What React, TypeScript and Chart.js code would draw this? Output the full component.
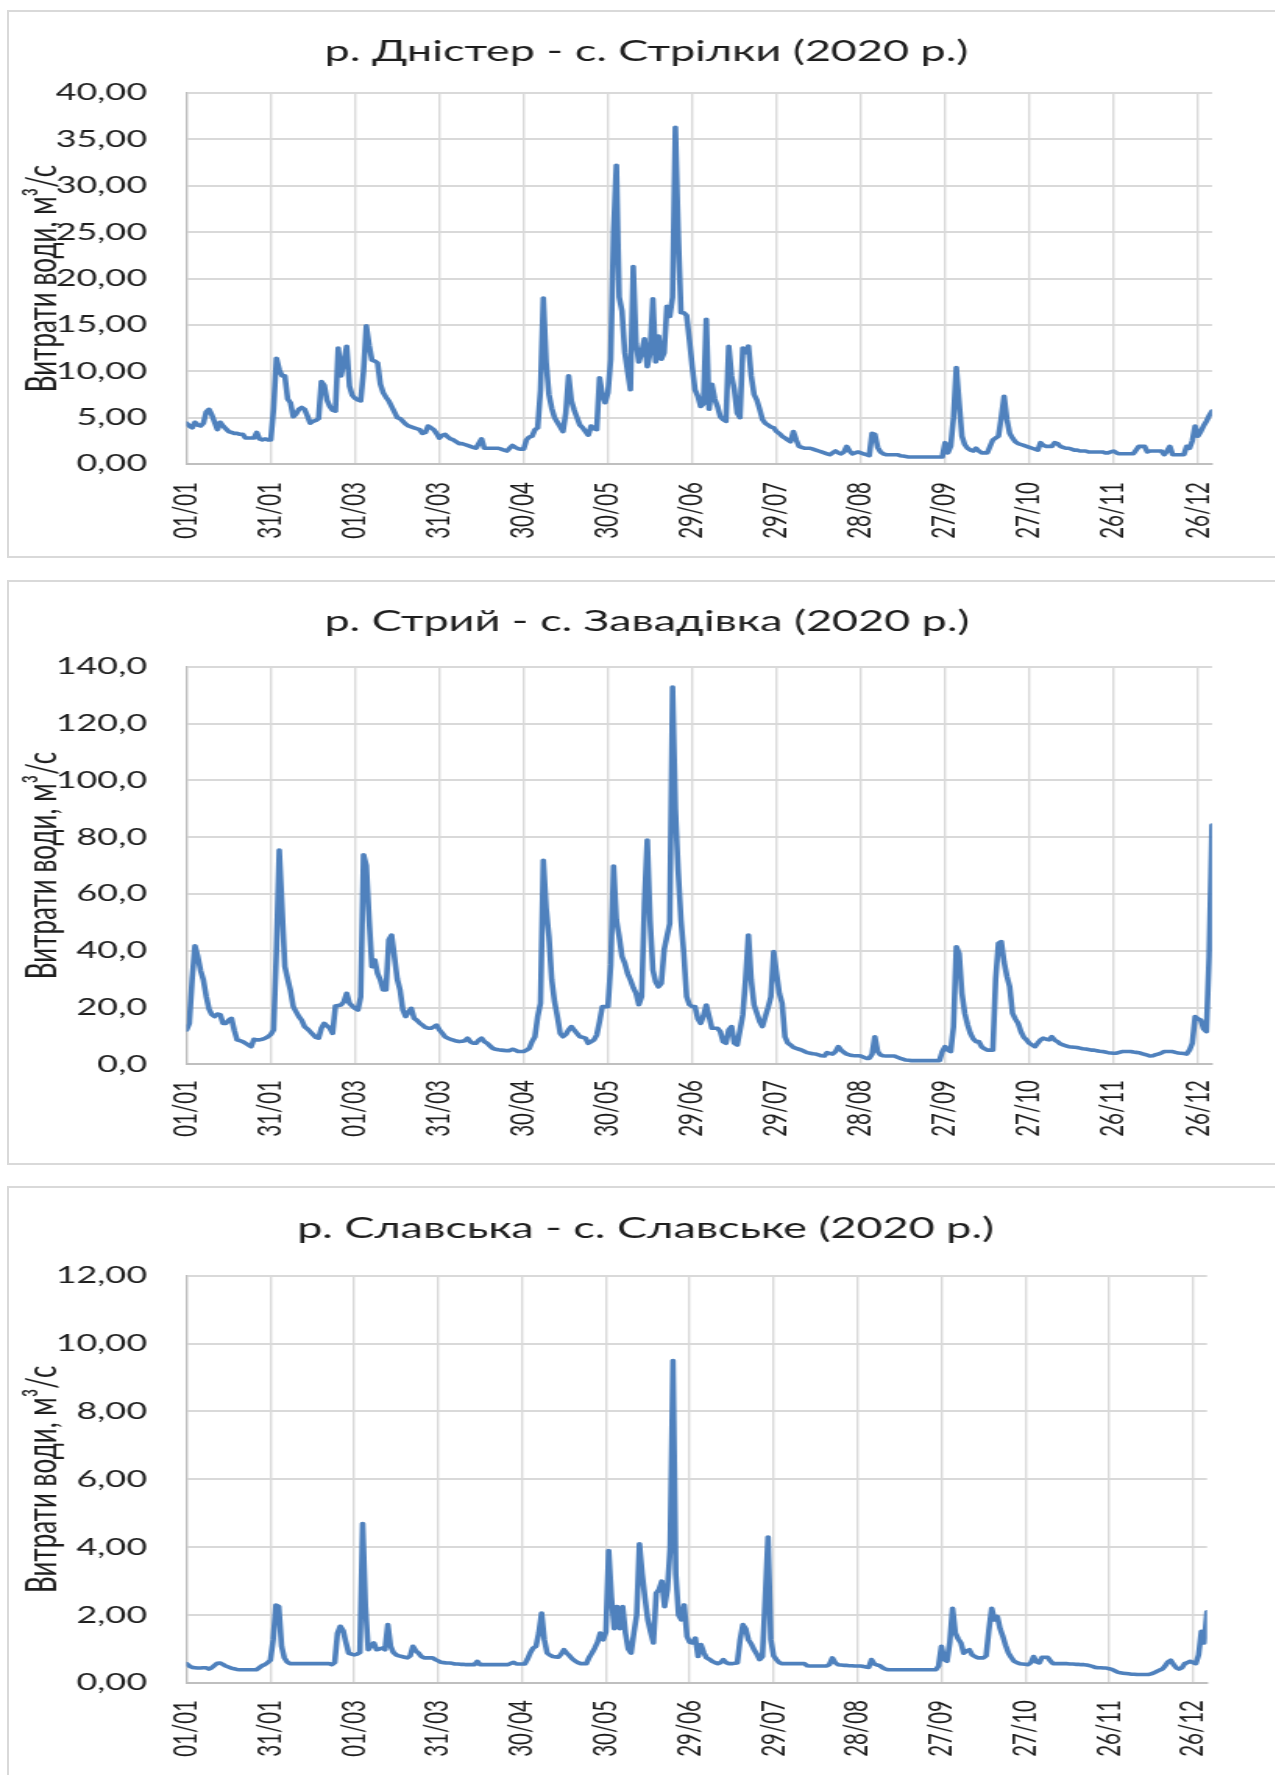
import { useEffect, useRef } from 'react';
import { Chart, registerables } from 'chart.js';

Chart.register(...registerables);

// ---------- data ----------
const xTickLabels = ['01/01', '31/01', '01/03', '31/03', '30/04', '30/05', '29/06', '29/07', '28/08', '27/09', '27/10', '26/11', '26/12'];
const yAxisTitle = 'Витрати води, м³/с';

const titleDnister = 'р. Дністер - с. Стрілки (2020 р.)';
const titleStryi = 'р. Стрий - с. Завадівка (2020 р.)';
const titleSlavska = 'р. Славська - с. Славське (2020 р.)';

// daily discharge, 01/01/2020 .. 31/12/2020 (366 values)
const dnister = [
  4.4, 4.1, 3.9, 4.5, 4.2, 4.1, 4.4, 5.6, 5.9, 5.3,
  4.5, 3.7, 4.5, 4.1, 3.8, 3.5, 3.4, 3.3, 3.3, 3.2,
  3.2, 2.8, 2.8, 2.8, 2.8, 3.4, 2.7, 2.6, 2.7, 2.6,
  2.6, 6.0, 11.4, 10.2, 9.5, 9.5, 7.0, 6.6, 5.1, 5.4,
  5.9, 6.1, 5.9, 5.2, 4.4, 4.6, 4.7, 4.9, 8.9, 8.5,
  6.9, 6.2, 5.8, 5.7, 12.5, 9.5, 11.0, 12.7, 8.4, 7.4,
  7.1, 6.9, 6.8, 10.0, 14.9, 12.8, 11.2, 11.1, 10.9, 8.6,
  7.7, 7.2, 6.8, 6.2, 5.6, 5.0, 4.9, 4.6, 4.3, 4.1,
  4.0, 3.9, 3.8, 3.7, 3.3, 3.4, 4.1, 3.9, 3.7, 3.3,
  2.8, 3.1, 3.2, 2.9, 2.7, 2.6, 2.4, 2.2, 2.2, 2.1,
  2.0, 1.9, 1.8, 1.7, 2.2, 2.7, 1.7, 1.7, 1.7, 1.7,
  1.7, 1.7, 1.6, 1.5, 1.4, 1.7, 2.0, 1.8, 1.65, 1.6,
  1.6, 2.6, 2.9, 3.0, 3.7, 3.9, 8.0, 17.9, 11.0, 7.5,
  6.0, 5.0, 4.5, 4.0, 3.5, 5.5, 9.5, 6.8, 5.8, 5.0,
  4.2, 3.9, 3.5, 3.1, 4.1, 3.8, 3.7, 9.3, 7.5, 6.6,
  7.7, 11.3, 25.0, 32.2, 18.0, 16.5, 12.0, 10.0, 8.0, 21.3,
  13.0, 11.0, 12.0, 13.5, 10.5, 12.0, 17.8, 11.0, 13.8, 11.3,
  12.0, 17.0, 15.9, 18.0, 36.3, 25.0, 16.3, 16.3, 16.0, 13.4,
  10.5, 8.0, 7.3, 6.2, 6.5, 15.6, 5.9, 8.6, 7.0, 6.2,
  5.1, 4.8, 4.6, 12.7, 9.5, 8.0, 5.5, 5.0, 12.5, 12.0,
  12.7, 9.5, 7.5, 6.9, 5.9, 4.8, 4.4, 4.2, 4.0, 3.9,
  3.5, 3.3, 3.0, 2.8, 2.6, 2.4, 3.5, 2.6, 1.9, 1.8,
  1.7, 1.7, 1.7, 1.6, 1.5, 1.4, 1.3, 1.2, 1.1, 1.0,
  1.2, 1.4, 1.2, 1.1, 1.3, 1.9, 1.4, 1.1, 1.2, 1.3,
  1.2, 1.1, 1.0, 0.9, 3.3, 3.2, 1.8, 1.3, 1.1, 1.0,
  1.0, 1.0, 1.0, 1.0, 0.9, 0.85, 0.8, 0.75, 0.75, 0.75,
  0.75, 0.75, 0.75, 0.75, 0.75, 0.75, 0.75, 0.75, 0.75, 0.75,
  2.3, 1.2, 1.9, 5.0, 10.4, 6.6, 3.0, 2.1, 1.7, 1.5,
  1.4, 1.7, 1.4, 1.2, 1.2, 1.2, 1.9, 2.6, 2.8, 3.0,
  5.0, 7.3, 4.8, 3.3, 2.8, 2.4, 2.2, 2.1, 2.0, 1.9,
  1.8, 1.7, 1.6, 1.5, 2.3, 2.0, 1.9, 1.9, 1.9, 2.3,
  2.2, 1.9, 1.8, 1.7, 1.7, 1.6, 1.5, 1.5, 1.4, 1.4,
  1.4, 1.3, 1.3, 1.3, 1.3, 1.3, 1.3, 1.2, 1.2, 1.3,
  1.4, 1.2, 1.1, 1.1, 1.1, 1.1, 1.1, 1.1, 1.5, 1.9,
  1.9, 1.9, 1.3, 1.4, 1.4, 1.4, 1.4, 1.4, 1.0, 1.4,
  1.9, 1.0, 1.0, 1.0, 1.0, 1.0, 1.9, 1.7, 2.5, 4.1,
  3.0, 3.5, 4.1, 4.6, 5.2, 5.7,
];

const stryi = [
  12.1, 14.4, 30.0, 41.7, 38.0, 33.0, 29.7, 24.0, 19.5, 17.5,
  16.8, 17.7, 17.5, 14.4, 14.4, 15.5, 16.2, 12.0, 8.6, 8.3,
  8.0, 7.4, 6.8, 6.2, 8.8, 8.6, 8.6, 8.8, 9.2, 9.7,
  10.5, 12.1, 40.0, 75.4, 55.0, 34.4, 30.0, 26.0, 20.3, 18.5,
  16.8, 15.5, 13.3, 12.5, 11.5, 10.5, 9.5, 9.2, 12.7, 14.4,
  13.5, 12.7, 10.9, 20.5, 20.7, 20.9, 22.0, 25.0, 21.5, 20.5,
  19.7, 19.1, 23.8, 73.8, 70.0, 50.8, 34.4, 36.7, 32.0, 29.7,
  26.2, 26.2, 43.8, 45.5, 37.9, 30.0, 26.2, 19.1, 16.8, 18.5,
  19.7, 16.2, 15.5, 14.5, 13.8, 13.0, 12.7, 12.7, 13.2, 13.8,
  12.1, 11.0, 9.7, 9.2, 8.8, 8.5, 8.2, 8.0, 8.1, 8.3,
  9.2, 8.0, 7.4, 7.4, 8.5, 9.2, 8.0, 7.4, 6.5, 5.6,
  5.3, 5.1, 5.0, 4.9, 4.8, 4.8, 5.3, 5.0, 4.5, 4.5,
  4.5, 5.0, 5.6, 8.0, 9.7, 16.8, 21.5, 71.8, 55.0, 45.0,
  29.7, 22.0, 16.8, 10.9, 9.7, 10.5, 12.1, 13.3, 12.0, 10.9,
  9.7, 9.5, 9.2, 7.4, 8.0, 8.6, 10.3, 15.0, 20.3, 20.3,
  20.3, 35.0, 69.8, 50.8, 45.0, 38.0, 35.6, 32.0, 29.7, 27.0,
  25.0, 21.0, 23.8, 56.7, 79.0, 50.8, 33.2, 29.0, 27.3, 28.5,
  40.3, 45.0, 49.6, 132.8, 90.0, 68.0, 50.8, 39.1, 23.8, 21.0,
  20.3, 20.3, 16.0, 14.4, 17.0, 20.9, 16.8, 12.7, 12.7, 12.7,
  11.5, 8.0, 7.4, 12.1, 13.3, 7.4, 6.8, 12.0, 17.4, 30.0,
  45.5, 29.7, 20.9, 18.0, 15.0, 13.3, 16.8, 20.0, 23.8, 39.7,
  32.0, 25.0, 21.5, 9.7, 7.5, 6.8, 6.0, 5.6, 5.3, 5.0,
  4.5, 4.1, 3.9, 3.7, 3.6, 3.3, 3.0, 2.9, 4.1, 3.8,
  3.6, 4.5, 6.2, 5.0, 4.2, 3.6, 3.3, 3.1, 3.0, 3.0,
  2.9, 2.5, 2.1, 2.1, 3.5, 9.7, 4.5, 3.3, 3.0, 2.9,
  2.9, 2.9, 2.9, 2.5, 2.1, 1.8, 1.5, 1.4, 1.3, 1.3,
  1.3, 1.3, 1.3, 1.3, 1.3, 1.3, 1.3, 1.3, 1.3, 4.5,
  6.2, 5.0, 4.5, 13.3, 41.4, 39.0, 25.0, 18.0, 14.0, 10.9,
  9.0, 8.0, 8.0, 6.2, 5.5, 5.0, 5.0, 5.0, 30.0, 42.6,
  43.2, 36.0, 31.0, 27.3, 18.0, 16.0, 14.4, 11.5, 9.5, 8.6,
  7.4, 6.8, 6.2, 7.5, 8.6, 9.2, 8.8, 8.6, 9.7, 8.5,
  8.0, 7.2, 6.8, 6.5, 6.2, 6.1, 6.0, 5.9, 5.7, 5.5,
  5.4, 5.2, 5.0, 5.0, 4.8, 4.6, 4.5, 4.3, 4.1, 4.0,
  3.9, 3.9, 4.2, 4.5, 4.5, 4.5, 4.5, 4.3, 4.2, 4.1,
  3.8, 3.5, 3.2, 2.9, 3.0, 3.4, 3.6, 4.0, 4.5, 4.5,
  4.5, 4.5, 4.2, 4.0, 3.9, 3.8, 3.6, 5.0, 7.4, 16.8,
  16.0, 15.6, 12.5, 11.5, 38.0, 84.2,
];

const slavska = [
  0.57, 0.5, 0.46, 0.45, 0.44, 0.44, 0.45, 0.45, 0.41, 0.45,
  0.52, 0.58, 0.59, 0.55, 0.5, 0.47, 0.44, 0.42, 0.4, 0.39,
  0.39, 0.39, 0.39, 0.39, 0.39, 0.39, 0.45, 0.51, 0.54, 0.6,
  0.67, 1.27, 2.3, 2.25, 1.08, 0.74, 0.62, 0.57, 0.57, 0.57,
  0.57, 0.57, 0.57, 0.57, 0.57, 0.57, 0.57, 0.57, 0.57, 0.57,
  0.57, 0.57, 0.54, 0.6, 1.47, 1.67, 1.55, 1.2, 0.88, 0.85,
  0.83, 0.85, 0.9, 4.7, 2.25, 0.98, 1.1, 1.18, 0.98, 1.0,
  1.03, 0.98, 1.72, 1.08, 0.9, 0.83, 0.8, 0.78, 0.76, 0.74,
  0.8, 1.08, 0.95, 0.88, 0.78, 0.74, 0.74, 0.74, 0.74, 0.69,
  0.65, 0.61, 0.6, 0.59, 0.59, 0.58, 0.56, 0.56, 0.55, 0.55,
  0.54, 0.54, 0.54, 0.54, 0.64, 0.54, 0.54, 0.54, 0.54, 0.54,
  0.54, 0.54, 0.54, 0.54, 0.54, 0.54, 0.58, 0.61, 0.56, 0.56,
  0.56, 0.56, 0.71, 0.9, 1.03, 1.08, 1.47, 2.06, 1.27, 0.88,
  0.82, 0.78, 0.77, 0.76, 0.85, 0.98, 0.88, 0.8, 0.71, 0.65,
  0.6, 0.57, 0.57, 0.57, 0.75, 0.88, 1.03, 1.2, 1.47, 1.27,
  1.5, 3.9, 2.5, 1.6, 2.25, 1.6, 2.25, 1.47, 1.0, 0.88,
  1.47, 2.0, 4.1, 3.2, 2.5, 1.86, 1.5, 1.18, 2.65, 2.75,
  3.0, 2.25, 2.75, 4.0, 9.5, 3.2, 2.0, 1.86, 2.3, 1.37,
  1.2, 1.18, 1.32, 0.78, 1.13, 0.9, 0.74, 0.7, 0.64, 0.6,
  0.57, 0.6, 0.69, 0.6, 0.57, 0.57, 0.58, 0.59, 1.27, 1.72,
  1.6, 1.27, 1.15, 0.98, 0.85, 0.69, 0.78, 2.5, 4.3, 1.27,
  0.8, 0.69, 0.6, 0.57, 0.57, 0.57, 0.57, 0.57, 0.57, 0.57,
  0.57, 0.57, 0.51, 0.5, 0.5, 0.5, 0.5, 0.5, 0.5, 0.5,
  0.55, 0.74, 0.6, 0.54, 0.53, 0.52, 0.52, 0.51, 0.51, 0.5,
  0.5, 0.5, 0.49, 0.47, 0.46, 0.69, 0.56, 0.53, 0.51, 0.45,
  0.41, 0.39, 0.39, 0.39, 0.39, 0.39, 0.39, 0.39, 0.39, 0.39,
  0.39, 0.39, 0.39, 0.39, 0.39, 0.39, 0.39, 0.39, 0.39, 0.5,
  1.08, 0.69, 0.64, 1.2, 2.2, 1.47, 1.3, 1.18, 0.88, 0.95,
  0.98, 0.83, 0.78, 0.74, 0.74, 0.74, 0.8, 1.57, 2.2, 1.86,
  1.96, 1.6, 1.37, 1.1, 0.88, 0.75, 0.64, 0.6, 0.57, 0.56,
  0.55, 0.54, 0.6, 0.78, 0.62, 0.59, 0.76, 0.76, 0.76, 0.65,
  0.57, 0.57, 0.57, 0.57, 0.57, 0.57, 0.56, 0.56, 0.55, 0.55,
  0.54, 0.54, 0.53, 0.51, 0.49, 0.46, 0.45, 0.45, 0.44, 0.44,
  0.42, 0.4, 0.36, 0.32, 0.3, 0.29, 0.28, 0.27, 0.26, 0.26,
  0.25, 0.25, 0.25, 0.25, 0.25, 0.27, 0.3, 0.34, 0.38, 0.41,
  0.5, 0.62, 0.67, 0.55, 0.45, 0.41, 0.45, 0.57, 0.6, 0.64,
  0.6, 0.57, 0.83, 1.52, 1.18, 2.1,
];

// ---------- layout / style ----------
const K = 1.56; // horizontal stretch of the drawing
const CW = 818; // internal canvas width
const AREA_LEFT = 119.55;
const FONT = "Lato, 'Open Sans', sans-serif";
const TEXT = '#1e1e1e';
const GRID = '#d9d9d9';
const AXIS = '#bfbfbf';
const LINE = '#4f81bd';
const TITLE_SIZE = 28.8;
const YTICK_SIZE = 23;
const XTICK_SIZE = 20.5;
const YTITLE_SIZE = 26;
const YTITLE_CX = 27.6;
const YTICK_PAD = 25.3;

type Panel = {
  title: string;
  values: number[];
  yMax: number;
  yStep: number;
  decimals: number;
  top: number;
  height: number;
  areaTop: number;
  areaBottom: number;
  areaRight: number;
  titleCX: number;
  titleCY: number;
  xPad: number;
  boxTop: number;
  boxHeight: number;
};

const panels: Panel[] = [
  { title: titleDnister, values: dnister, yMax: 40, yStep: 5, decimals: 2,
    top: 11, height: 546, areaTop: 82, areaBottom: 453, areaRight: 776.9,
    titleCX: 414.4, titleCY: 40.5, xPad: 18, boxTop: 10, boxHeight: 548 },
  { title: titleStryi, values: stryi, yMax: 140, yStep: 20, decimals: 1,
    top: 581, height: 583, areaTop: 85.7, areaBottom: 483.3, areaRight: 776.9,
    titleCX: 414.7, titleCY: 40.5, xPad: 15.7, boxTop: 580, boxHeight: 585 },
  { title: titleSlavska, values: slavska, yMax: 12, yStep: 2, decimals: 2,
    top: 1187, height: 588, areaTop: 88.7, areaBottom: 496, areaRight: 773.7,
    titleCX: 413.8, titleCY: 41.5, xPad: 17, boxTop: 1186, boxHeight: 700 },
];

// centres the chart title on a given x (the title is not centred on the plot in the original)
const titleCenterPlugin = {
  id: 'titleCenter',
  afterLayout(chart: any, _args: any, opts: any) {
    const t = chart.titleBlock;
    if (!t || opts == null || opts.cx == null) return;
    const half = CW / 2;
    t.left = opts.cx - half;
    t.right = opts.cx + half;
    t.width = CW;
  },
};

function buildConfig(p: Panel): any {
  const padR = CW - p.areaRight;
  const tlh = TITLE_SIZE * 1.2;
  const ylh = YTITLE_SIZE * 1.2;
  const xH = p.height - p.areaBottom;
  return {
    type: 'line',
    data: {
      datasets: [{
        data: p.values.map((v, i) => ({ x: i, y: v })),
        borderColor: LINE,
        borderWidth: 3.6,
        pointRadius: 0,
        tension: 0,
        fill: false,
        borderJoinStyle: 'round',
        borderCapStyle: 'round',
      }],
    },
    plugins: [titleCenterPlugin],
    options: {
      animation: false,
      responsive: false,
      maintainAspectRatio: false,
      events: [],
      layout: { padding: { left: 0, right: padR, top: 0, bottom: 0 } },
      plugins: {
        legend: { display: false },
        tooltip: { enabled: false },
        titleCenter: { cx: p.titleCX },
        title: {
          display: true,
          text: p.title,
          color: TEXT,
          font: { family: FONT, size: TITLE_SIZE, weight: 'normal', lineHeight: 1.2 },
          padding: { top: p.titleCY - tlh / 2, bottom: p.areaTop - p.titleCY - tlh / 2 },
        },
      },
      scales: {
        x: {
          type: 'linear',
          min: 0,
          max: 365,
          afterFit: (s: any) => { s.height = xH; },
          ticks: {
            stepSize: 30,
            includeBounds: false,
            autoSkip: false,
            maxRotation: 90,
            minRotation: 90,
            padding: p.xPad,
            color: TEXT,
            font: { family: FONT, size: XTICK_SIZE },
            callback: (v: number) => xTickLabels[Math.round(v / 30)] ?? '',
          },
          grid: {
            color: (c: any) => (c.tick && c.tick.value === 0 ? 'rgba(0,0,0,0)' : GRID),
            lineWidth: 1.4,
            drawTicks: false,
          },
          border: { color: AXIS, width: 2 },
        },
        y: {
          min: 0,
          max: p.yMax,
          afterFit: (s: any) => { s.width = AREA_LEFT; },
          ticks: {
            stepSize: p.yStep,
            padding: YTICK_PAD,
            color: TEXT,
            font: { family: FONT, size: YTICK_SIZE },
            callback: (v: number) => Number(v).toFixed(p.decimals).replace('.', ','),
          },
          grid: {
            color: (c: any) => (c.tick && c.tick.value === 0 ? 'rgba(0,0,0,0)' : GRID),
            lineWidth: 2,
            drawTicks: false,
          },
          border: { color: AXIS, width: 1.4 },
          title: {
            display: true,
            text: yAxisTitle,
            color: TEXT,
            font: { family: FONT, size: YTITLE_SIZE, lineHeight: 1.2 },
            padding: { top: YTITLE_CX - ylh / 2, bottom: 0 },
          },
        },
      },
    },
  };
}

function PanelChart({ p }: { p: Panel }) {
  const ref = useRef<HTMLCanvasElement | null>(null);
  useEffect(() => {
    if (!ref.current) return;
    const chart = new Chart(ref.current, buildConfig(p));
    return () => chart.destroy();
  }, [p]);
  return (
    <>
      <div
        style={{
          position: 'absolute', left: 7, top: p.boxTop, width: 1320, height: p.boxHeight,
          border: '2px solid #d9d9d9', boxSizing: 'border-box',
        }}
      />
      <canvas
        ref={ref}
        width={CW}
        height={p.height}
        style={{
          position: 'absolute', left: 0, top: p.top,
          transform: `scaleX(${K})`, transformOrigin: '0 0',
        }}
      />
    </>
  );
}

export default function App() {
  return (
    <div
      style={{
        position: 'absolute', left: 0, top: 0, width: 1275, height: 1775,
        overflow: 'hidden', background: '#ffffff',
      }}
    >
      {panels.map((p, i) => <PanelChart key={i} p={p} />)}
    </div>
  );
}
